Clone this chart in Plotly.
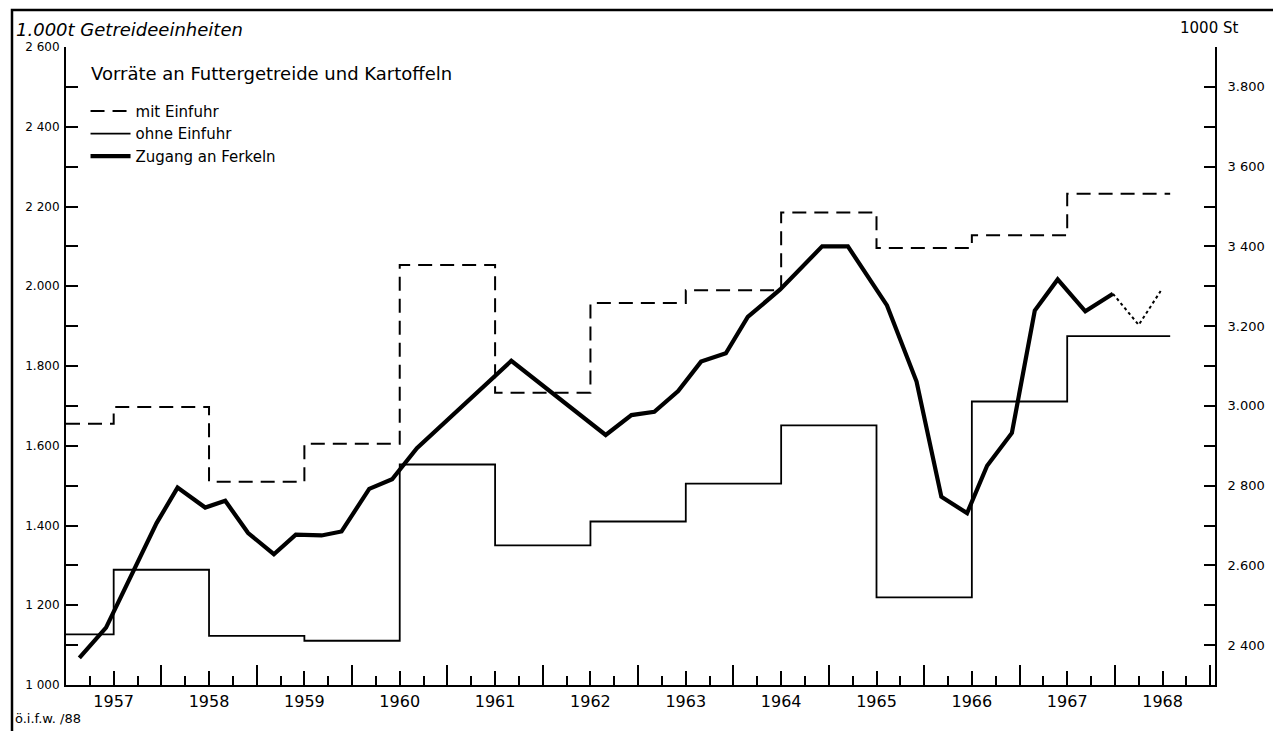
import plotly.graph_objects as go

#
# Data
#
# Wirtschaftsjahre (Juli-Juni): Stufen beginnen jeweils zur Jahresmitte
step_x = [1957.0, 1957.5, 1958.5, 1959.5, 1960.5, 1961.5, 1962.5, 1963.5,
          1964.5, 1965.5, 1966.5, 1967.5, 1968.58]
# 1000 t Getreideeinheiten
mit_einfuhr = [1655, 1697, 1510, 1605, 2053, 1733, 1958, 1990, 2185, 2096, 2128, 2232]
ohne_einfuhr = [1127, 1289, 1123, 1111, 1553, 1350, 1410, 1505, 1651, 1220, 1711, 1875]

# Zugang an Ferkeln, 1000 St
ferkel_x = [1957.14, 1957.42, 1957.95, 1958.17, 1958.46, 1958.67, 1958.91, 1959.18,
            1959.41, 1959.68, 1959.89, 1960.18, 1960.42, 1960.68, 1961.67, 1962.66,
            1962.93, 1963.17, 1963.42, 1963.66, 1963.92, 1964.15, 1964.49, 1964.93,
            1965.20, 1965.61, 1965.92, 1966.18, 1966.45, 1966.66, 1966.92, 1967.16,
            1967.40, 1967.69, 1967.98]
ferkel = [2368, 2444, 2706, 2795, 2745, 2762, 2681, 2628,
          2677, 2675, 2685, 2792, 2816, 2894, 3113, 2927,
          2977, 2985, 3037, 3111, 3132, 3223, 3292, 3400,
          3400, 3252, 3061, 2772, 2731, 2850, 2932, 3239,
          3317, 3237, 3281]
# vorlaeufig / geschaetzt (punktiert)
ferkel_est_x = [1967.98, 1968.25, 1968.48]
ferkel_est = [3281, 3203, 3288]

years = list(range(1957, 1969))

left_vals = [1000, 1200, 1400, 1600, 1800, 2000, 2200, 2400, 2600]
left_text = ['1 000', '1 200', '1.400', '1.600', '1.800', '2.000', '2 200', '2 400', '2 600']
right_vals = [2400, 2600, 2800, 3000, 3200, 3400, 3600, 3800]
right_text = ['2 400', '2.600', '2 800', '3.000', '3.200', '3 400', '3 600', '3.800']

x_range = [1957.0, 1969.05]

#
# Figure
#
fig = go.Figure()

fig.add_trace(go.Scatter(x=step_x, y=mit_einfuhr + [mit_einfuhr[-1]], mode='lines',
                         line_shape='hv', name='mit Einfuhr',
                         line=dict(color='black', width=2, dash='14px,8px')))
fig.add_trace(go.Scatter(x=step_x, y=ohne_einfuhr + [ohne_einfuhr[-1]], mode='lines',
                         line_shape='hv', name='ohne Einfuhr',
                         line=dict(color='black', width=1.8)))
fig.add_trace(go.Scatter(x=ferkel_x, y=ferkel, mode='lines', name='Zugang an Ferkeln',
                         yaxis='y2', line=dict(color='black', width=4.2)))
fig.add_trace(go.Scatter(x=ferkel_est_x, y=ferkel_est, mode='lines', showlegend=False,
                         yaxis='y2', line=dict(color='black', width=2, dash='dot')))
# carrier for the year-boundary ticks
fig.add_trace(go.Scatter(x=[], y=[], xaxis='x2', showlegend=False, hoverinfo='skip'))

# page body has an 8px margin, so the figure is a bit smaller than the window
fig.update_layout(
    width=1273, height=723,
    margin=dict(l=58, r=66, t=39, b=46),
    paper_bgcolor='white', plot_bgcolor='white',
    font=dict(family='DejaVu Sans', color='black'),
    showlegend=True,
    legend=dict(x=0.017, y=0.925, xanchor='left', yanchor='top',
                bgcolor='rgba(0,0,0,0)', font=dict(size=15),
                itemwidth=40, tracegroupgap=0),
    xaxis=dict(range=x_range, tickvals=[y + 0.5 for y in years],
               ticktext=[str(y) for y in years],
               ticks='inside', ticklen=14, tickwidth=1.5, tickcolor='black',
               tickfont=dict(size=16), ticklabelstandoff=1,
               minor=dict(tickvals=[y + q for y in years + [1968] for q in (0.25, 0.75)],
                          ticks='inside', ticklen=9, tickwidth=1.5, tickcolor='black'),
               showline=True, linecolor='black', linewidth=2,
               showgrid=False, zeroline=False),
    xaxis2=dict(range=x_range, overlaying='x', anchor='y', side='bottom',
                tickvals=years + [1969], ticks='inside', ticklen=20, tickwidth=1.5,
                tickcolor='black', showticklabels=False, showline=False,
                showgrid=False, zeroline=False),
    yaxis=dict(range=[1000, 2600], tickvals=left_vals, ticktext=left_text,
               ticks='inside', ticklen=12, tickwidth=1.5, tickcolor='black',
               tickfont=dict(size=12), ticklabelstandoff=2,
               minor=dict(tickvals=[v + 100 for v in left_vals[:-1]], ticks='inside',
                          ticklen=12, tickwidth=1.5, tickcolor='black'),
               showline=True, linecolor='black', linewidth=2,
               showgrid=False, zeroline=False),
    yaxis2=dict(range=[2300, 3900], overlaying='y', side='right',
                tickvals=right_vals, ticktext=right_text,
                ticks='inside', ticklen=11, tickwidth=1.5, tickcolor='black',
                tickfont=dict(size=13), ticklabelstandoff=8,
                minor=dict(tickvals=[v + 100 for v in right_vals] + [2300], ticks='inside',
                           ticklen=11, tickwidth=1.5, tickcolor='black'),
                showline=True, linecolor='black', linewidth=2,
                showgrid=False, zeroline=False),
)

fig.add_annotation(text='Vorräte an Futtergetreide und Kartoffeln', xref='paper', yref='paper',
                   x=0.020, y=0.959, xanchor='left', yanchor='middle', showarrow=False,
                   font=dict(size=18))
fig.add_annotation(text='1.000t Getreideeinheiten', xref='paper', yref='paper',
                   x=-0.045, y=1.027, xanchor='left', yanchor='middle', showarrow=False,
                   font=dict(size=18, style='italic'))
fig.add_annotation(text='1000 St', xref='paper', yref='paper',
                   x=0.968, y=1.03, xanchor='left', yanchor='middle', showarrow=False,
                   font=dict(size=15))
fig.add_annotation(text='ö.i.f.w. /88', xref='paper', yref='paper',
                   x=-0.046, y=-0.052, xanchor='left', yanchor='middle', showarrow=False,
                   font=dict(size=13))

# outer frame
fig.add_shape(type='rect', xref='paper', yref='paper', x0=-0.047, x1=1.053,
              y0=-0.09, y1=1.058, line=dict(color='black', width=2.5))

fig.write_html("out.html")
